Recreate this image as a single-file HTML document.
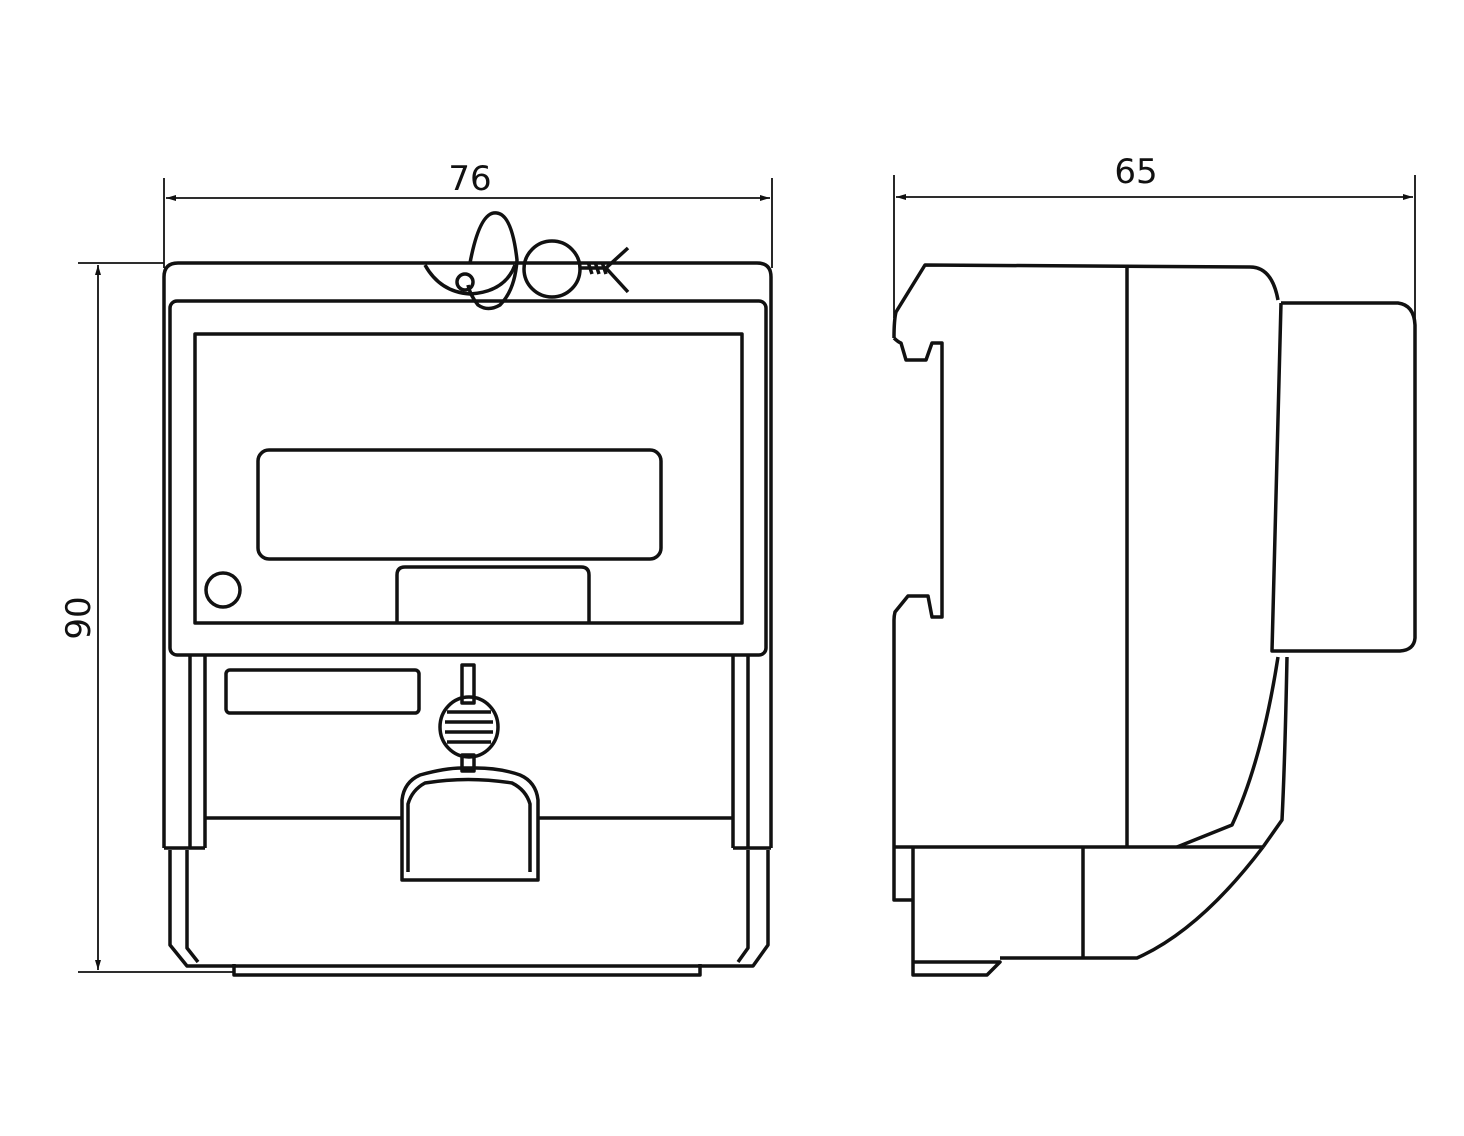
<!DOCTYPE html>
<html><head><meta charset="utf-8"><style>
html,body{margin:0;padding:0;background:#fff;}
svg{display:block}
text{font-family:"DejaVu Sans","Liberation Sans",sans-serif;fill:#111}
</style></head><body>
<svg width="1464" height="1136" viewBox="0 0 1464 1136" xmlns="http://www.w3.org/2000/svg">
<defs>
<marker id="a" viewBox="0 0 10 10" refX="10" refY="5" markerWidth="14" markerHeight="10" markerUnits="userSpaceOnUse" orient="auto-start-reverse"><path d="M0,2 L10,5 L0,8 z" fill="#111"/></marker>
</defs>
<g stroke="#111" fill="none" stroke-width="1.8">
<line x1="164" y1="178" x2="164" y2="268"/>
<line x1="772" y1="178" x2="772" y2="268"/>
<line x1="166" y1="198" x2="770" y2="198" marker-start="url(#a)" marker-end="url(#a)"/>
<line x1="78" y1="263" x2="164" y2="263"/>
<line x1="78" y1="972" x2="235" y2="972"/>
<line x1="98" y1="265" x2="98" y2="970" marker-start="url(#a)" marker-end="url(#a)"/>
<line x1="894" y1="175" x2="894" y2="318"/>
<line x1="1415" y1="175" x2="1415" y2="330"/>
<line x1="896" y1="197" x2="1413" y2="197" marker-start="url(#a)" marker-end="url(#a)"/>
</g>
<text x="470" y="190" font-size="34" text-anchor="middle">76</text>
<text x="1136" y="183" font-size="34" text-anchor="middle">65</text>
<text transform="translate(90,618) rotate(-90)" font-size="34" text-anchor="middle">90</text>

<g stroke="#111" fill="none" stroke-width="3.5" stroke-linejoin="round">
<path d="M164,848 V277 Q164,263 178,263 H757 Q771,263 771,277 V848"/>
<rect x="170" y="301" width="596" height="354" rx="7"/>
<rect x="195" y="334" width="547" height="289"/>
<rect x="258" y="450" width="403" height="109" rx="11"/>
<path d="M397,622 V575 Q397,567 405,567 H581 Q589,567 589,575 V622"/>
<circle cx="223" cy="590" r="17"/>
<path d="M190,655 V848 M205,655 V848"/>
<path d="M733,655 V848 M748,655 V848"/>
<path d="M164,848 H205 M733,848 H771"/>
<rect x="226" y="670" width="193" height="43" rx="4"/>
<path d="M205,818 H402 M538,818 H733"/>
<path d="M170,850 V945 L187,966 H753 L768,945 V850"/>
<path d="M187,850 V948 L198,962 M748,850 V948 L738,962"/>
<path d="M234,964 V975 H700 V964"/>
<!-- key/lock -->
<rect x="462" y="665" width="12" height="38"/>
<ellipse cx="469" cy="727" rx="29" ry="30"/>
<path d="M447,712 H491 M445,722 H493 M445,732 H493 M447,742 H491"/>
<rect x="462" y="755" width="12" height="16"/>
<path d="M402,880 V800 Q404,782 420,775 Q445,768 462,768 H476 Q500,768 520,775 Q536,782 538,800 V880 Z"/>
<path d="M408,872 V804 Q412,790 425,783 Q468,776 512,783 Q526,790 530,804 V872"/>
<!-- seal -->
<path d="M425,265 Q440,292 470,294 Q505,292 515,265"/>
<path d="M470,263 Q480,210 497,213 Q512,215 517,260 Q515,290 500,305 Q488,312 478,305 Q470,295 468,285"/>
<circle cx="465" cy="282" r="8"/>
<circle cx="552" cy="269" r="28"/>
<path d="M580,268 H606 M588,262 L592,274 M595,262 L599,274 M602,262 L606,274 M606,268 L628,248 M606,268 L628,292"/>

<!-- SIDE VIEW -->
<path d="M1278,300 Q1272,267 1250,267 L925,265 L896,312 Q894,320 894,338"/>
<path d="M894,338 Q898,342 901,343 L906,360 H926 L932,343 H942 V617 H932 L928,596 H908 L895,612 Q894,616 894,620 V847"/>
<path d="M1127,267 V847"/>
<path d="M1281,303 H1398 Q1414,305 1415,325 V638 Q1414,650 1400,651 H1272 L1281,303"/>
<path d="M894,847 H1263"/>
<path d="M894,847 V900 H913"/>
<path d="M913,847 V975 H987 L1000,962 H913"/>
<path d="M1000,958 H1137 Q1200,930 1263,847"/>
<path d="M1083,847 V958"/>
<path d="M1278,657 Q1262,760 1232,825 L1177,847"/>
<path d="M1287,657 Q1285,760 1282,820 L1263,847"/>
</g>
</svg>
</body></html>
